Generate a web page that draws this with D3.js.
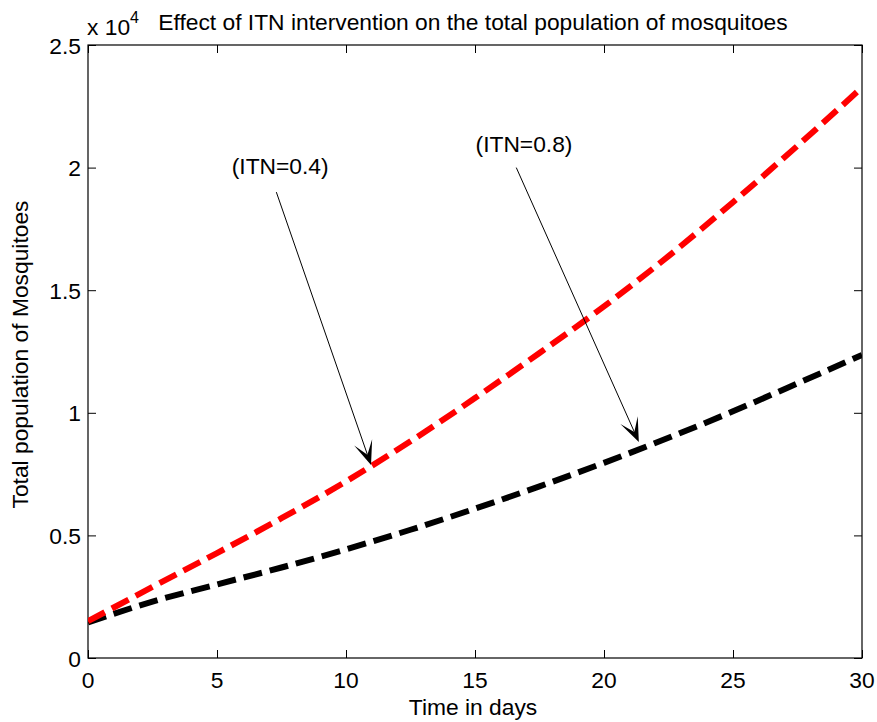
<!DOCTYPE html>
<html>
<head>
<meta charset="utf-8">
<script src="https://cdn.jsdelivr.net/npm/d3@7/dist/d3.min.js"></script>
<style>
  html, body { margin: 0; padding: 0; background: #fff; }
  svg { display: block; font-family: "Liberation Sans", Arial, sans-serif; }
</style>
</head>
<body>
<svg id="chart" width="877" height="722"></svg>
<script>
// ---- data ----
const days   = [0, 2.5, 5, 7.5, 10, 12.5, 15, 17.5, 20, 22.5, 25, 27.5, 30];
const itn04  = [1500, 2900, 4280, 5700, 7200, 8840, 10600, 12440, 14340, 16390, 18590, 20890, 23270];
const itn08  = [1450, 2300, 3000, 3690, 4430, 5230, 6090, 7000, 7960, 8980, 10060, 11200, 12360];
const xTicks = [0, 5, 10, 15, 20, 25, 30];
const yTicks = [0, 5000, 10000, 15000, 20000, 25000];
const yTickLabels = ["0", "0.5", "1", "1.5", "2", "2.5"];
const annotations = [
  { label: "(ITN=0.4)", textAt: [7.45, 19750], from: [7.3, 19000], to: [10.97, 7870] },
  { label: "(ITN=0.8)", textAt: [16.9, 20650], from: [16.6, 20000], to: [21.35, 8810] }
];
const titleText = "Effect of ITN intervention on the total population of mosquitoes";

// ---- layout ----
const svg = d3.select("#chart");
const L = 88, R = 862, T = 45, B = 658;
const x = d3.scaleLinear().domain([0, 30]).range([L, R]);
const y = d3.scaleLinear().domain([0, 25000]).range([B, T]);
const fs = 22.8;

// axes (inward ticks on all four sides)
const tickLen = 8;
svg.append("g").attr("transform", `translate(0,${B})`)
  .call(d3.axisTop(x).tickValues(xTicks).tickSize(tickLen).tickFormat(""))
  .call(g => g.select(".domain").remove());
svg.append("g").attr("transform", `translate(0,${T})`)
  .call(d3.axisBottom(x).tickValues(xTicks).tickSize(tickLen).tickFormat(""))
  .call(g => g.select(".domain").remove());
svg.append("g").attr("transform", `translate(${L},0)`)
  .call(d3.axisRight(y).tickValues(yTicks).tickSize(tickLen).tickFormat(""))
  .call(g => g.select(".domain").remove());
svg.append("g").attr("transform", `translate(${R},0)`)
  .call(d3.axisLeft(y).tickValues(yTicks).tickSize(tickLen).tickFormat(""))
  .call(g => g.select(".domain").remove());
svg.selectAll(".tick line").attr("stroke", "#000").attr("stroke-width", 1);

// box
svg.append("rect").attr("x", L).attr("y", T).attr("width", R - L).attr("height", B - T)
  .attr("fill", "none").attr("stroke", "#000").attr("stroke-width", 1.2);

// tick labels
svg.append("g").selectAll("text").data(xTicks).join("text")
  .attr("x", d => x(d)).attr("y", B + 30)
  .attr("text-anchor", "middle").attr("font-size", fs).attr("fill", "#000")
  .text(d => d);
svg.append("g").selectAll("text").data(yTicks).join("text")
  .attr("x", L - 7).attr("y", d => y(d) + 8.5)
  .attr("text-anchor", "end").attr("font-size", fs).attr("fill", "#000")
  .text((d, i) => yTickLabels[i]);

// exponent label
const ex = svg.append("text").attr("x", L - 1).attr("y", 35).attr("font-size", fs).attr("fill", "#000");
ex.append("tspan").text("x 10");
ex.append("tspan").attr("dy", -12).attr("font-size", 16).text("4");

// title
svg.append("text").attr("x", (L + R) / 2 - 2).attr("y", 30)
  .attr("text-anchor", "middle").attr("font-size", fs).attr("fill", "#000")
  .text(titleText);

// axis labels
svg.append("text").attr("x", (L + R) / 2 - 2).attr("y", 715)
  .attr("text-anchor", "middle").attr("font-size", fs).attr("fill", "#000")
  .text("Time in days");
svg.append("text")
  .attr("transform", `translate(28,${(T + B) / 2 + 3}) rotate(-90)`)
  .attr("text-anchor", "middle").attr("font-size", fs).attr("fill", "#000")
  .text("Total population of Mosquitoes");

// lines
const line = d3.line().x(d => x(d[0])).y(d => y(d[1])).curve(d3.curveMonotoneX);
svg.append("clipPath").attr("id", "clip").append("rect")
  .attr("x", L).attr("y", T).attr("width", R - L).attr("height", B - T);
svg.append("path").datum(days.map((d, i) => [d, itn08[i]]))
  .attr("d", line).attr("fill", "none").attr("stroke", "#000")
  .attr("stroke-width", 6).attr("stroke-dasharray", "19,8")
  .attr("clip-path", "url(#clip)");
svg.append("path").datum(days.map((d, i) => [d, itn04[i]]))
  .attr("d", line).attr("fill", "none").attr("stroke", "#ff0000")
  .attr("stroke-width", 6).attr("stroke-dasharray", "19,8")
  .attr("clip-path", "url(#clip)");

// annotations
annotations.forEach(a => {
  const [tx, ty] = [x(a.textAt[0]), y(a.textAt[1])];
  svg.append("text").attr("x", tx).attr("y", ty)
    .attr("text-anchor", "middle").attr("font-size", fs).attr("fill", "#000")
    .text(a.label);
  const x1 = x(a.from[0]), y1 = y(a.from[1]), x2 = x(a.to[0]), y2 = y(a.to[1]);
  const dx = x2 - x1, dy = y2 - y1, len = Math.hypot(dx, dy);
  const ux = dx / len, uy = dy / len, vx = -uy, vy = ux;
  const HL = 24, HW = 9.5, NOTCH = 11;
  svg.append("line").attr("x1", x1).attr("y1", y1)
    .attr("x2", x2 - ux * NOTCH).attr("y2", y2 - uy * NOTCH)
    .attr("stroke", "#000").attr("stroke-width", 1);
  const p = [
    [x2, y2],
    [x2 - ux * HL + vx * HW, y2 - uy * HL + vy * HW],
    [x2 - ux * NOTCH, y2 - uy * NOTCH],
    [x2 - ux * HL - vx * HW, y2 - uy * HL - vy * HW]
  ];
  svg.append("path").attr("d", "M" + p.map(q => q.join(",")).join("L") + "Z").attr("fill", "#000");
});
</script>
</body>
</html>
